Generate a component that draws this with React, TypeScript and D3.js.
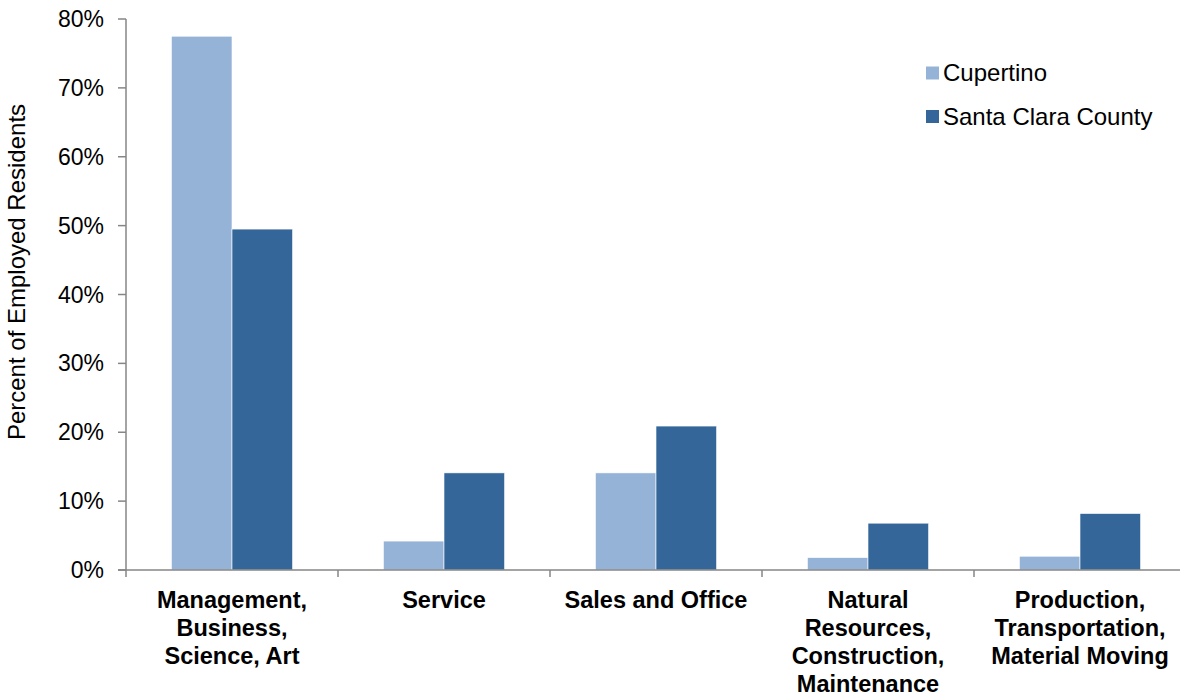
import React from "react";
import * as d3 from "d3";

const categories: string[][] = [
  ["Management,", "Business,", "Science, Art"],
  ["Service"],
  ["Sales and Office"],
  ["Natural", "Resources,", "Construction,", "Maintenance"],
  ["Production,", "Transportation,", "Material Moving"],
];
const seriesNames = ["Cupertino", "Santa Clara County"];
const cupertino = [77.5, 4.2, 14.1, 1.8, 2.0];
const santaClara = [49.5, 14.1, 20.9, 6.8, 8.2];
const yTicks = [0, 10, 20, 30, 40, 50, 60, 70, 80];
const colors = ["#95B3D7", "#346699"];

export default function App() {
  const W = 1180, H = 696;
  const x0 = 126, x1 = 1186, y0 = 570, y1 = 19;
  const idx = categories.map((_, i) => String(i));
  const x = d3.scaleBand<string>().domain(idx).range([x0, x1]).paddingInner(0).paddingOuter(0);
  const y = d3.scaleLinear().domain([0, 80]).range([y0, y1]);
  const bw = 60.6;
  const series = [cupertino, santaClara];
  const font = "'Liberation Sans', Arial, sans-serif";
  const axisColor = "#868686";
  return (
    <svg width={W} height={H} style={{ position: "absolute", left: 0, top: 0, background: "#fff" }} fontFamily={font}>
      {series.map((vals, s) =>
        vals.map((v, i) => {
          const cx = (x(String(i)) as number) + x.bandwidth() / 2;
          const bx = cx - bw + s * bw;
          return (
            <rect key={`${s}-${i}`} x={bx} y={y(v)} width={bw} height={y0 - y(v)} fill={colors[s]} stroke="#fff" strokeWidth={0.6} />
          );
        })
      )}
      {/* y axis */}
      <line x1={x0} x2={x0} y1={y1} y2={y0} stroke={axisColor} strokeWidth={1.5} />
      {yTicks.map((t) => (
        <g key={t}>
          <line x1={x0 - 8} x2={x0} y1={y(t)} y2={y(t)} stroke={axisColor} strokeWidth={1.5} />
          <text x={104} y={y(t)} dy="0.35em" textAnchor="end" fontSize={23} fill="#000">{t}%</text>
        </g>
      ))}
      {/* x axis */}
      <line x1={x0 - 8} x2={x1} y1={y0} y2={y0} stroke={axisColor} strokeWidth={1.5} />
      {categories.map((_, i) => (
        <line key={i} x1={x(String(i)) as number} x2={x(String(i)) as number} y1={y0} y2={y0 + 7} stroke={axisColor} strokeWidth={1.5} />
      ))}
      {categories.map((lines, i) => {
        const cx = (x(String(i)) as number) + x.bandwidth() / 2;
        return (
          <text key={i} x={cx} y={600} textAnchor="middle" fontSize={23.5} fontWeight="bold" fill="#000">
            {lines.map((l, j) => (
              <tspan key={j} x={cx} y={600 + j * 28} dy="0.35em">{l}</tspan>
            ))}
          </text>
        );
      })}
      <text transform={`translate(17,272) rotate(-90)`} textAnchor="middle" dy="0.35em" fontSize={24} fill="#000">
        Percent of Employed Residents
      </text>
      {/* legend */}
      {seriesNames.map((n, i) => (
        <g key={n}>
          <rect x={926} y={73 + i * 43.5 - 6.5} width={13} height={13} fill={colors[i]} />
          <text x={943} y={73 + i * 43.5} dy="0.35em" fontSize={24} fill="#000">{n}</text>
        </g>
      ))}
    </svg>
  );
}
